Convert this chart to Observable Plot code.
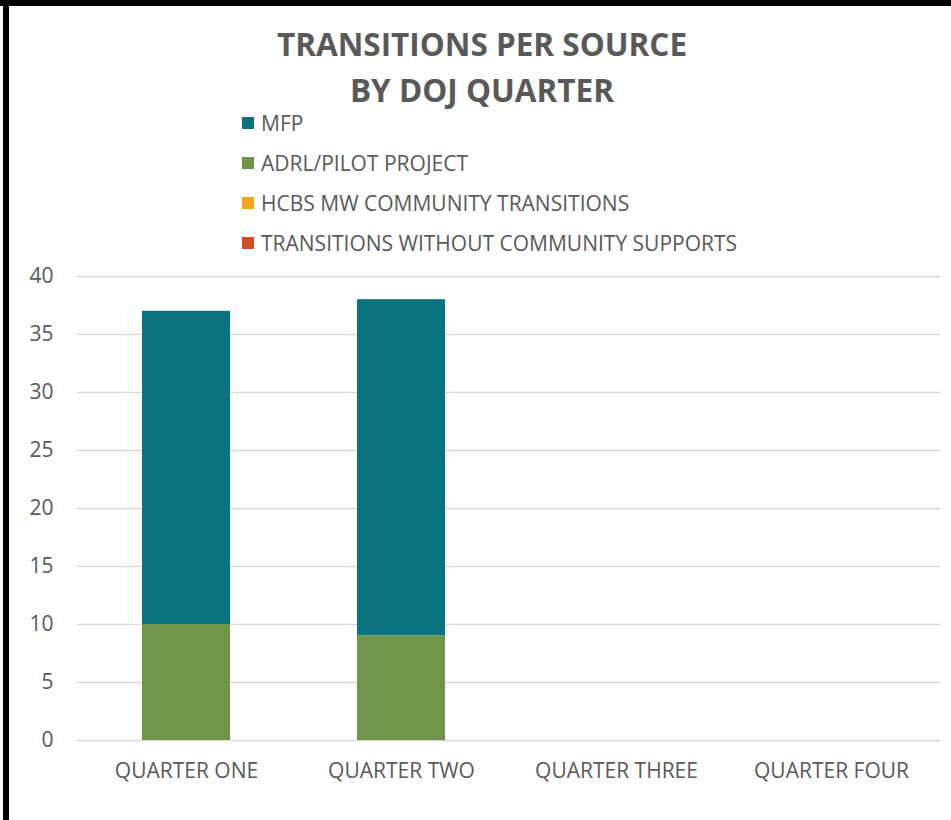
<!DOCTYPE html>
<html>
<head>
<meta charset="utf-8">
<script src="https://cdn.jsdelivr.net/npm/d3@7"></script>
<script src="https://cdn.jsdelivr.net/npm/@observablehq/plot@0.6"></script>
<style>
  html, body { margin: 0; padding: 0; background: #fff; }
  #wrap { position: relative; width: 951px; height: 820px; overflow: hidden; background: #fff; font-family: "Open Sans", sans-serif; }
  #borderTop { position: absolute; left: 0; top: 0; width: 951px; height: 6px; background: #000; }
  #borderLeft { position: absolute; left: 3px; top: 0; width: 6px; height: 820px; background: #000; }
  #title { position: absolute; left: 0; width: 964px; top: 21px; text-align: center; font-weight: 700; font-size: 31.5px; line-height: 46px; color: #595959; }
  #legend { position: absolute; left: 242px; top: 103px; }
  .item { position: relative; height: 40px; display: flex; align-items: center; font-size: 21px; color: #595959; white-space: nowrap; }
  .sw { width: 12px; height: 12px; margin-right: 7px; flex: none; }
  #chart { position: absolute; left: 0; top: 256px; }
</style>
</head>
<body>
<div id="wrap">
  <div id="title">TRANSITIONS PER SOURCE<br>BY DOJ QUARTER</div>
  <div id="legend"></div>
  <div id="chart"></div>
  <div id="borderTop"></div>
  <div id="borderLeft"></div>
</div>
<script>
const quarters = ["QUARTER ONE", "QUARTER TWO", "QUARTER THREE", "QUARTER FOUR"];
const seriesNames = ["MFP", "ADRL/PILOT PROJECT", "HCBS MW COMMUNITY TRANSITIONS", "TRANSITIONS WITHOUT COMMUNITY SUPPORTS"];
const seriesColors = ["#0B737E", "#70954A", "#F6A31E", "#D24E27"];
const mfp = [27, 29, 0, 0];
const adrl = [10, 9, 0, 0];
const hcbs = [0, 0, 0, 0];
const withoutSupports = [0, 0, 0, 0];
const yTicks = [0, 5, 10, 15, 20, 25, 30, 35, 40];

const seriesValues = [mfp, adrl, hcbs, withoutSupports];
// stack order: bottom first (ADRL at bottom, MFP above)
const stackOrder = ["ADRL/PILOT PROJECT", "MFP", "HCBS MW COMMUNITY TRANSITIONS", "TRANSITIONS WITHOUT COMMUNITY SUPPORTS"];
const data = [];
quarters.forEach((q, i) => {
  seriesNames.forEach((s, j) => {
    data.push({quarter: q, series: s, value: seriesValues[j][i]});
  });
});

// legend
const legend = document.getElementById("legend");
seriesNames.forEach((s, j) => {
  const it = document.createElement("div");
  it.className = "item";
  const sw = document.createElement("span");
  sw.className = "sw";
  sw.style.background = seriesColors[j];
  it.appendChild(sw);
  it.appendChild(document.createTextNode(s));
  legend.appendChild(it);
});

const chart = Plot.plot({
  width: 951,
  height: 544,
  marginTop: 20,
  marginBottom: 60,
  marginLeft: 77,
  marginRight: 11,
  style: {fontFamily: "Open Sans, sans-serif", fontSize: "21px", color: "#595959", background: "transparent"},
  x: {domain: quarters, paddingInner: 0.59, paddingOuter: 0.295, label: null},
  y: {domain: [0, 40], label: null},
  color: {domain: seriesNames, range: seriesColors},
  marks: [
    Plot.ruleY(yTicks, {stroke: "#d9d9d9", strokeWidth: 1.3}),
    Plot.barY(data, Plot.stackY({
      x: "quarter", y: "value", fill: "series",
      order: stackOrder
    })),
    Plot.axisY(yTicks, {tickSize: 0, tickPadding: 24, fill: "#595959", fontSize: 21, label: null}),
    Plot.axisX({tickSize: 0, tickPadding: 23, fill: "#595959", fontSize: 21, label: null})
  ]
});
document.getElementById("chart").appendChild(chart);
</script>
</body>
</html>
